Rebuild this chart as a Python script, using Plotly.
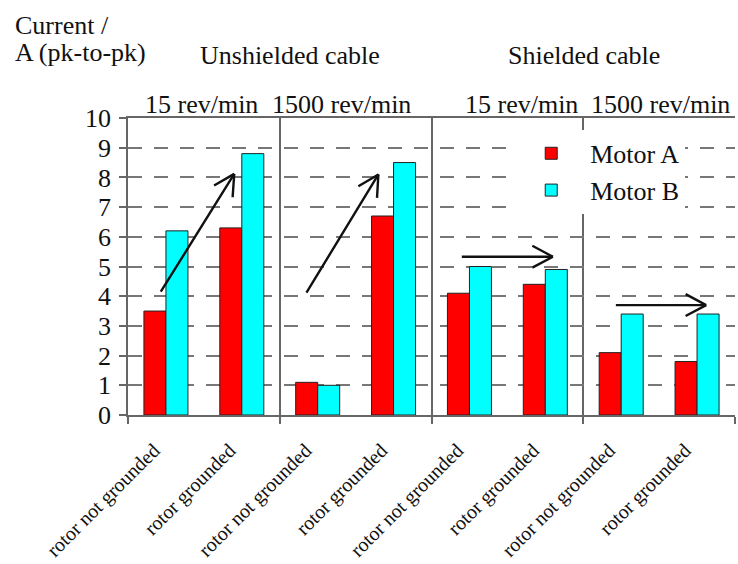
import math
import plotly.graph_objects as go

# ---- data ----
categories = ["rotor not grounded", "rotor grounded", "rotor not grounded", "rotor grounded",
              "rotor not grounded", "rotor grounded", "rotor not grounded", "rotor grounded"]
motor_a = [3.5, 6.3, 1.1, 6.7, 4.1, 4.4, 2.1, 1.8]
motor_b = [6.2, 8.8, 1.0, 8.5, 5.0, 4.9, 3.4, 3.4]
speed_labels = ["15 rev/min", "1500 rev/min", "15 rev/min", "1500 rev/min"]
speed_label_pos = [0.47, 2.32, 4.68, 6.52]
cable_labels = ["Unshielded cable", "Shielded cable"]
cable_label_pos = [1.63, 5.51]
group_bounds = [-0.5, 1.5, 3.5, 5.5, 7.5]
y_ticks = list(range(0, 11))
# arrows: (tail_x, tail_y, head_x, head_y) in data units
arrows = [(-0.08, 4.1, 0.90, 8.12),
          (1.84, 4.07, 2.80, 8.1),
          (3.88, 5.33, 5.10, 5.33),
          (5.91, 3.70, 7.12, 3.70)]

FONT = "Liberation Serif, Times New Roman, Times, serif"
W, H = 738, 564
ML, MR, MT, MB = 128, 3, 118, 149
XR = [-0.5, 7.5]
YR = [0, 10]
px_per_x = (W - ML - MR) / (XR[1] - XR[0])
px_per_y = (H - MT - MB) / (YR[1] - YR[0])
xpos = list(range(len(categories)))

fig = go.Figure()
fig.add_trace(go.Bar(x=xpos, y=motor_a, name="Motor A",
                     marker=dict(color="#ff0000", line=dict(color="#222", width=1))))
fig.add_trace(go.Bar(x=xpos, y=motor_b, name="Motor B",
                     marker=dict(color="#00ffff", line=dict(color="#222", width=1))))

annotations = []
ARM = 25
HALF = math.radians(28)
for tx, ty, hx, hy in arrows:
    # shaft
    annotations.append(dict(x=hx, y=hy, ax=tx, ay=ty, xref="x", yref="y", axref="x", ayref="y",
                            text="", showarrow=True, arrowhead=0, arrowwidth=2.4,
                            arrowcolor="#111", standoff=0, startstandoff=0))
    # open chevron head drawn as two short strokes
    th = math.atan2(-(hy - ty) * px_per_y, (hx - tx) * px_per_x)
    for s in (-1, 1):
        a = th + math.pi + s * HALF
        annotations.append(dict(x=hx, y=hy, ax=ARM * math.cos(a), ay=ARM * math.sin(a),
                                xref="x", yref="y", text="", showarrow=True, arrowhead=0,
                                arrowwidth=2.4, arrowcolor="#111", standoff=0, startstandoff=0))
for lab, pos in zip(speed_labels, speed_label_pos):
    annotations.append(dict(x=pos, y=1.047, xref="x", yref="paper", text=lab, showarrow=False,
                            xanchor="center", yanchor="middle",
                            font=dict(family=FONT, size=26, color="#111")))
for lab, pos in zip(cable_labels, cable_label_pos):
    annotations.append(dict(x=pos, y=1.212, xref="x", yref="paper", text=lab, showarrow=False,
                            xanchor="center", yanchor="middle",
                            font=dict(family=FONT, size=26, color="#111")))
annotations.append(dict(x=-0.19, y=1.31, xref="paper", yref="paper", text="Current /",
                        showarrow=False, xanchor="left", yanchor="middle",
                        font=dict(family=FONT, size=26, color="#111")))
annotations.append(dict(x=-0.19, y=1.219, xref="paper", yref="paper", text="A (pk-to-pk)",
                        showarrow=False, xanchor="left", yanchor="middle",
                        font=dict(family=FONT, size=26, color="#111")))

fig.update_layout(
    width=W, height=H,
    margin=dict(l=ML, r=MR, t=MT, b=MB, autoexpand=False),
    paper_bgcolor="white", plot_bgcolor="white",
    barmode="group", bargap=0.42, bargroupgap=0,
    font=dict(family=FONT, size=26, color="#111"),
    showlegend=True,
    legend=dict(x=0.633, y=0.96, xanchor="left", yanchor="top", bgcolor="white",
                font=dict(family=FONT, size=26, color="#111"), itemwidth=68,
                tracegroupgap=0),
    annotations=annotations,
)
fig.update_xaxes(
    range=XR, tickmode="array", tickvals=xpos, ticktext=categories,
    tickangle=-45, tickfont=dict(family=FONT, size=20, color="#111"),
    ticklabelstandoff=14, ticklabelshift=-12, automargin=False,
    ticks="", showgrid=False, zeroline=False,
    showline=True, linecolor="#666", linewidth=1.5, mirror=True,
    minor=dict(tickmode="array", tickvals=group_bounds, ticks="outside", ticklen=7,
               tickcolor="#666", tickwidth=1.5, showgrid=True, gridcolor="#666", gridwidth=1.5),
)
fig.update_yaxes(
    range=YR, tickmode="array", tickvals=y_ticks, automargin=False,
    tickfont=dict(family=FONT, size=26, color="#111"), ticklabelstandoff=3,
    ticks="outside", ticklen=7, tickcolor="#666", tickwidth=1.5,
    showgrid=True, gridcolor="#777", gridwidth=2, griddash="14px,12px",
    zeroline=False, showline=True, linecolor="#666", linewidth=1.5,
)

fig.write_html("out.html", config={"displayModeBar": False},
               post_script="document.body.style.margin='0px';document.body.style.overflow='hidden';")
